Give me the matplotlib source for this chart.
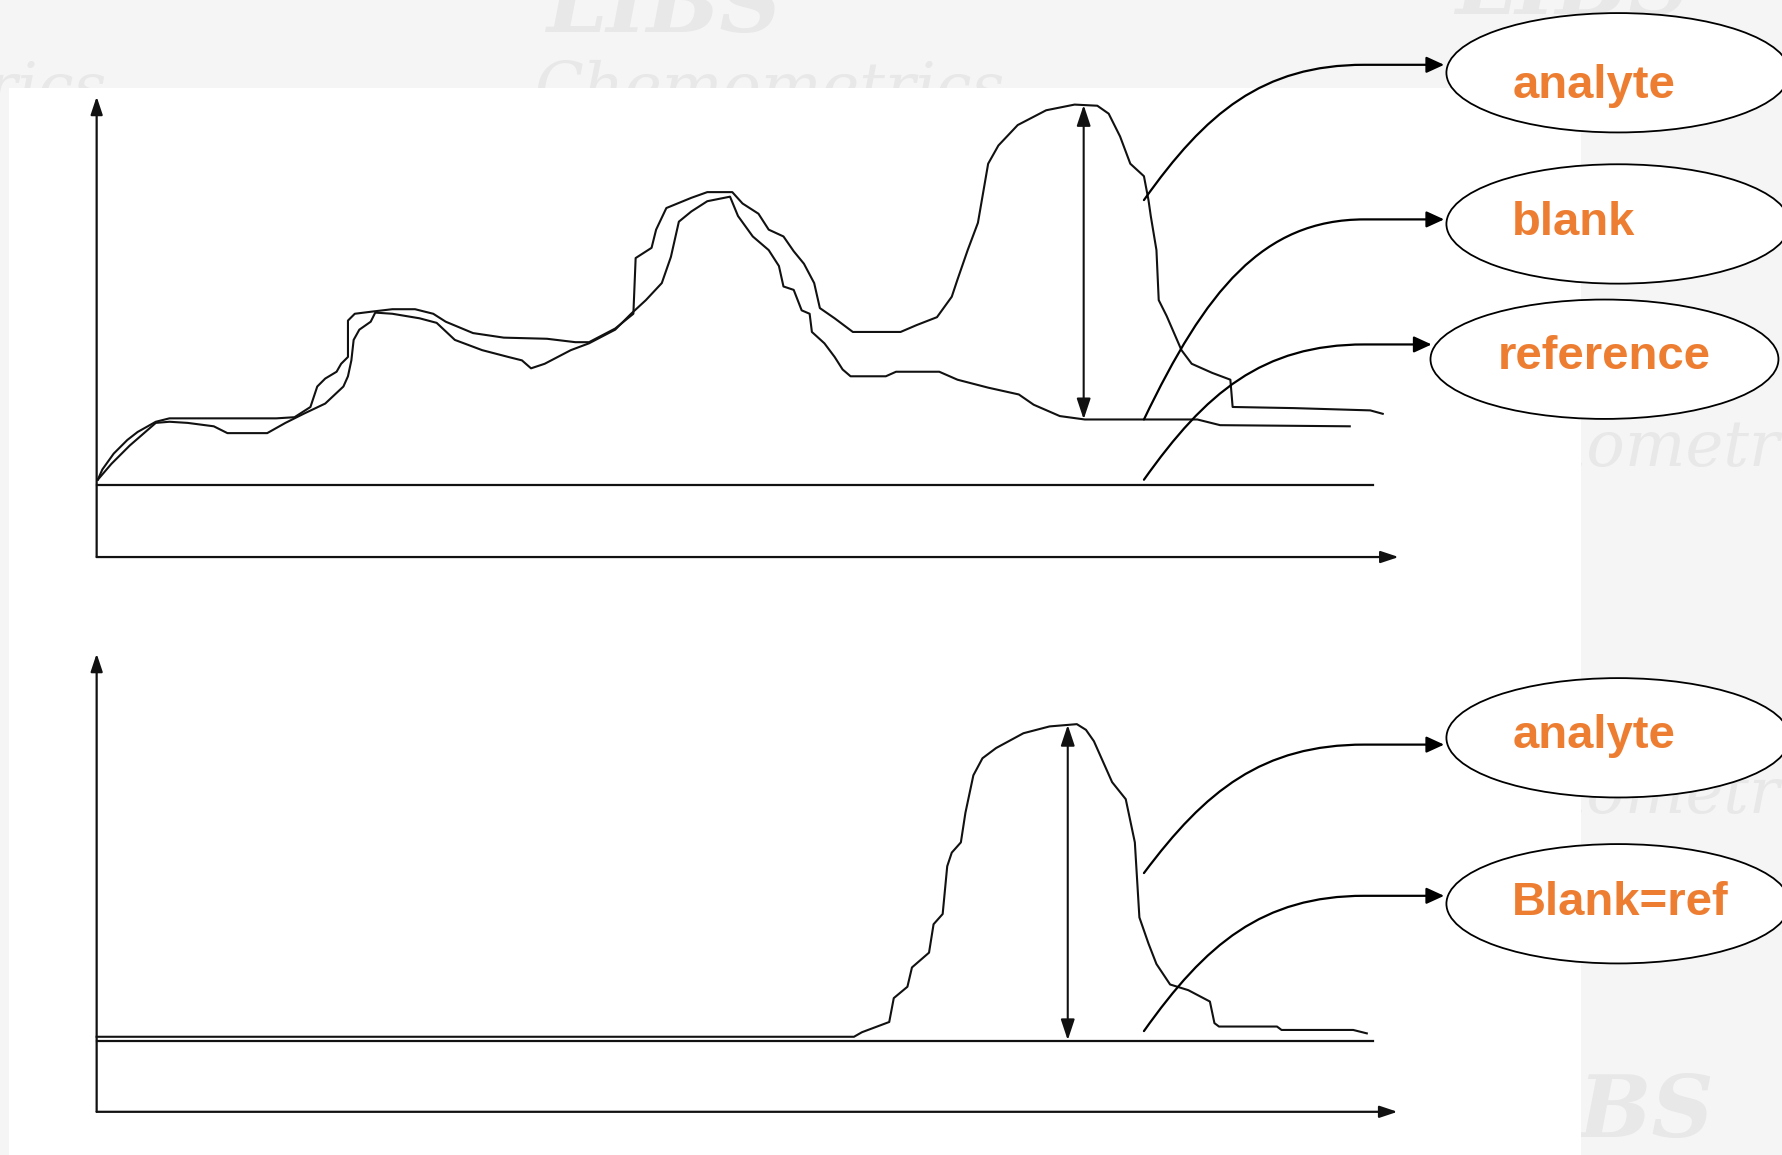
import numpy as np
import matplotlib.pyplot as plt
from matplotlib.patches import Ellipse, Rectangle, FancyArrowPatch
from matplotlib.path import Path

# reference layout units (thumbnail pixels), y grows downwards
W, H = 1568, 1016

# top spectrum: channel vs intensity (0 = x axis)
top_analyte_x = [1, 5, 15, 27, 36, 52, 64, 158, 174, 188, 194, 201, 211, 215, 221, 221, 227, 243,
                 260, 280, 296, 307, 331, 358, 396, 421, 433, 456, 472, 474, 488, 492, 501, 523,
                 537, 559, 568, 582, 591, 604, 613, 622, 631, 636, 649, 665, 707, 721, 739, 752,
                 757, 766, 775, 784, 793, 810, 835, 860, 880, 890, 900, 909, 921, 925, 927, 932,
                 934, 941, 954, 963, 981, 997, 999, 1053, 1120, 1131]
top_analyte_y = [68, 77, 91, 103, 110, 119, 122, 122, 123, 132, 150, 157, 163, 170, 176, 208, 214, 216,
                 218, 218, 214, 207, 197, 193, 192, 189, 189, 201, 214, 263, 272, 288, 307, 316,
                 321, 321, 311, 302, 288, 282, 269, 258, 241, 219, 210, 198, 198, 204, 211, 229,
                 244, 270, 294, 346, 362, 380, 393, 398, 397, 390, 370, 346, 335, 314, 300, 270,
                 226, 212, 182, 170, 162, 156, 132, 131, 129, 126]

top_blank_x = [1, 13, 29, 52, 64, 80, 103, 115, 150, 166, 182, 201, 217, 221, 224, 226, 231, 241,
               245, 260, 284, 299, 315, 339, 362, 374, 382, 394, 417, 433, 456, 470, 483, 497,
               505, 512, 523, 537, 557, 564, 577, 591, 600, 604, 613, 620, 627, 629, 640, 649,
               656, 663, 694, 703, 741, 757, 784, 811, 824, 847, 869, 968, 988, 1102]
top_blank_y = [68, 82, 98, 118, 119, 118, 115, 109, 109, 118, 126, 135, 150, 159, 173, 191, 200, 207,
               215, 214, 210, 206, 191, 182, 176, 173, 166, 170, 182, 188, 200, 214, 226, 241,
               264, 295, 304, 313, 317, 300, 282, 270, 256, 238, 235, 217, 214, 198, 188, 176,
               165, 159, 159, 163, 163, 156, 149, 143, 134, 124, 121, 121, 116, 115]

top_ref_level = 63
top_ref_end = 1122
top_peak_x = 868

# bottom spectrum: blank subtracted by reference
bot_analyte_x = [0, 666, 673, 697, 701, 713, 717, 732, 736, 744, 748, 752, 760, 764, 771, 779, 791,
                 815, 838, 862, 870, 877, 893, 905, 913, 917, 925, 932, 944, 960, 979, 983, 987,
                 1038, 1042, 1105, 1117]
bot_analyte_y = [66, 66, 70, 79, 100, 110, 127, 140, 165, 174, 216, 228, 237, 263, 296, 311, 320,
                 333, 339, 341, 336, 326, 290, 275, 237, 171, 148, 130, 112, 107, 97, 78, 75,
                 75, 72, 72, 69]
bot_ref_level = 62
bot_ref_end = 1122
bot_peak_x = 854

top_labels = ['analyte', 'blank', 'reference']
bot_labels = ['analyte', 'Blank=ref']

ORANGE = '#ED7D31'
INK = '#111111'

fig = plt.figure(figsize=(17.83, 11.55), dpi=100, facecolor='#f5f5f5')


def rect(x0, y0, x1, y1):
    return [x0 / W, 1 - y1 / H, (x1 - x0) / W, (y1 - y0) / H]


# background with faint watermark
bg = fig.add_axes([0, 0, 1, 1], zorder=0)
bg.set_xlim(0, W)
bg.set_ylim(H, 0)
bg.axis('off')
wm = dict(color='#e8e8e8', family='DejaVu Serif', style='italic', va='baseline', zorder=1)
bg.text(470, 95, 'Chemometrics', fontsize=46, **wm)
bg.text(-320, 95, 'Chemometrics', fontsize=46, **wm)
bg.text(480, 28, 'LIBS', fontsize=62, weight='bold', **wm)
bg.text(1280, 12, 'LIBS', fontsize=62, weight='bold', **wm)
bg.text(1230, 410, 'Chemometrics', fontsize=46, **wm)
bg.text(1230, 715, 'Chemometrics', fontsize=46, **wm)
bg.text(1300, 1000, 'LIBS', fontsize=62, weight='bold', **wm)
bg.add_patch(Rectangle((8, 77), 1382, 960, fc='white', ec='none', zorder=2))


def panel(x0, ytop, x1, ybot):
    ax = fig.add_axes(rect(x0, ytop, x1, ybot), zorder=1)
    ax.set_xlim(0, x1 - x0)
    ax.set_ylim(0, ybot - ytop)
    ax.axis('off')
    head = dict(arrowstyle='-|>,head_length=0.9,head_width=0.3', lw=1.6, color=INK,
                shrinkA=0, shrinkB=0, mutation_scale=12)
    ax.annotate('', xy=(0, 1), xytext=(0, 0), xycoords='axes fraction', arrowprops=head)
    ax.annotate('', xy=(1, 0), xytext=(0, 0), xycoords='axes fraction', arrowprops=head)
    return ax


def double_arrow(ax, x, y0, y1):
    ax.annotate('', xy=(x, y1), xytext=(x, y0),
                arrowprops=dict(arrowstyle='<|-|>,head_length=0.9,head_width=0.3', lw=1.5,
                                color=INK, shrinkA=0, shrinkB=0, mutation_scale=14))


# top panel
ax1 = panel(85, 85, 1230, 490)
ax1.plot([0, top_ref_end], [top_ref_level, top_ref_level], color=INK, lw=1.6, clip_on=False)
ax1.plot(top_blank_x, top_blank_y, color=INK, lw=1.5, clip_on=False)
ax1.plot(top_analyte_x, top_analyte_y, color=INK, lw=1.5, clip_on=False)
double_arrow(ax1, top_peak_x, np.interp(top_peak_x, top_blank_x, top_blank_y),
             np.interp(top_peak_x, top_analyte_x, top_analyte_y))

# bottom panel
ax2 = panel(85, 575, 1229, 978)
ax2.plot([0, bot_ref_end], [bot_ref_level, bot_ref_level], color=INK, lw=1.6, clip_on=False)
ax2.plot(bot_analyte_x, bot_analyte_y, color=INK, lw=1.5, clip_on=False)
double_arrow(ax2, bot_peak_x, bot_ref_level + 1, np.interp(bot_peak_x, bot_analyte_x, bot_analyte_y))

# callouts
ov = fig.add_axes([0, 0, 1, 1], zorder=3)
ov.set_xlim(0, W)
ov.set_ylim(H, 0)
ov.axis('off')


def connector(x0, y0, x1, y1):
    verts = [(x0, y0), (x0 + 54, y0 - 0.64 * (y0 - y1)), (x0 + 104, y1), (x0 + 194, y1), (x1, y1)]
    codes = [Path.MOVETO, Path.CURVE4, Path.CURVE4, Path.CURVE4, Path.LINETO]
    ov.add_patch(FancyArrowPatch(path=Path(verts, codes),
                                 arrowstyle='-|>,head_length=0.72,head_width=0.33',
                                 mutation_scale=15, lw=1.6, color='black',
                                 shrinkA=0, shrinkB=0))


def bubble(cx, cy, w, text, tx, ty):
    ov.add_patch(Ellipse((cx, cy), w, 105, fc='white', ec='black', lw=1.3))
    ov.text(tx, ty, text, color=ORANGE, fontsize=34, weight='bold',
            family='Liberation Sans', ha='left', va='baseline')


connector(1006, 176, 1270, 57)
connector(1006, 369, 1270, 193)
connector(1006, 422, 1259, 303)
connector(1006, 768, 1270, 655)
connector(1006, 907, 1270, 788)

bubble(1423, 64, 302, top_labels[0], 1330, 86)
bubble(1423, 197, 302, top_labels[1], 1330, 207)
bubble(1411, 316, 306, top_labels[2], 1317, 325)
bubble(1423, 649, 302, bot_labels[0], 1330, 658)
bubble(1423, 795, 302, bot_labels[1], 1330, 805)

fig.savefig('out.png', dpi=100, facecolor=fig.get_facecolor())
